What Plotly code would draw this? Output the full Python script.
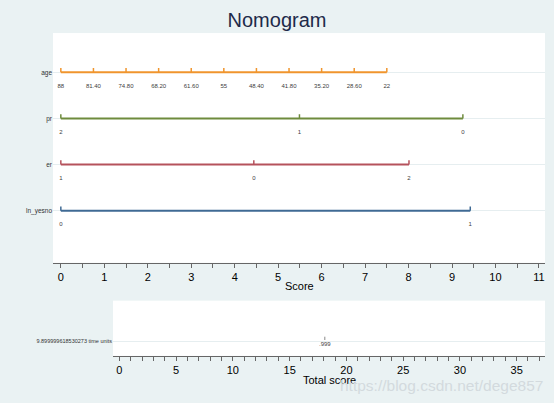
import plotly.graph_objects as go

# ---------------- data ----------------
variables = ["age", "pr", "er", "ln_yesno"]
levels = [4, 3, 2, 1]

age_labels = ["88", "81.40", "74.80", "68.20", "61.60", "55", "48.40", "41.80", "35.20", "28.60", "22"]
age_scores = [0, 0.75, 1.5, 2.25, 3.0, 3.75, 4.5, 5.25, 6.0, 6.75, 7.5]

pr_labels = ["2", "1", "0"]
pr_scores = [0, 5.49, 9.25]

er_labels = ["1", "0", "2"]
er_scores = [0, 4.44, 8.01]

ln_labels = ["0", "1"]
ln_scores = [0, 9.42]

score_ticks = [0, 1, 2, 3, 4, 5, 6, 7, 8, 9, 10, 11]
total_ticks = [0, 5, 10, 15, 20, 25, 30, 35]

time_label = "9.899999618530273 time units"
prob_labels = [".999"]
prob_totals = [18.1]

colors = ["#F0952D", "#6E8B3D", "#B5525C", "#3F6A94"]
FONT = "Liberation Sans, Arial, sans-serif"

series = [
    (age_scores, age_labels),
    (pr_scores, pr_labels),
    (er_scores, er_labels),
    (ln_scores, ln_labels),
]

fig = go.Figure()

TICK_H = 0.09
LABEL_OFF = 0.30
for (scores, labels), lvl, col in zip(series, levels, colors):
    # main segment
    fig.add_trace(go.Scatter(x=[min(scores), max(scores)], y=[lvl, lvl], mode="lines",
                             line=dict(color=col, width=2), hoverinfo="skip",
                             showlegend=False, xaxis="x", yaxis="y"))
    # tick marks
    tx, ty = [], []
    for s in scores:
        tx += [s, s, None]
        ty += [lvl, lvl + TICK_H, None]
    fig.add_trace(go.Scatter(x=tx, y=ty, mode="lines", line=dict(color=col, width=1.5),
                             hoverinfo="skip", showlegend=False, xaxis="x", yaxis="y"))
    # value labels
    fig.add_trace(go.Scatter(x=scores, y=[lvl - LABEL_OFF] * len(scores), mode="text",
                             text=labels, textposition="middle center",
                             textfont=dict(size=6, color="#404040", family=FONT),
                             hoverinfo="skip", showlegend=False, xaxis="x", yaxis="y"))

# bottom panel: probability marks
px, py = [], []
for t in prob_totals:
    px += [t, t, None]
    py += [0.03, 0.12, None]
fig.add_trace(go.Scatter(x=px, y=py, mode="lines", line=dict(color="#888888", width=1),
                         hoverinfo="skip", showlegend=False, xaxis="x2", yaxis="y2"))
fig.add_trace(go.Scatter(x=prob_totals, y=[-0.1] * len(prob_totals), mode="text",
                         text=prob_labels, textposition="middle center",
                         textfont=dict(size=6, color="#404040", family=FONT),
                         hoverinfo="skip", showlegend=False, xaxis="x2", yaxis="y2"))

axis_common = dict(showline=True, linecolor="#666666", linewidth=1, ticks="outside",
                   ticklen=4, tickcolor="#666666", tickwidth=1, showgrid=False, zeroline=False,
                   tickfont=dict(size=11, color="#000000", family=FONT))

top_dom = [0.0957, 0.9838]
bot_dom = [0.204, 0.9838]

fig.update_layout(
    width=554, height=403,
    margin=dict(l=0, r=0, t=0, b=0),
    paper_bgcolor="#EAF2F3",
    plot_bgcolor="#FFFFFF",
    font=dict(family=FONT),
    title=dict(text="Nomogram", x=0.5, xanchor="center", y=0.95, yanchor="middle",
               font=dict(size=20, color="#1E2A4A", family=FONT)),
    xaxis=dict(domain=top_dom, range=[-0.18, 11.14], tickvals=score_ticks,
               anchor="y",
               minor=dict(dtick=0.5, ticks="outside", ticklen=4, tickcolor="#666666"),
               **axis_common),
    yaxis=dict(domain=[0.348, 0.918], range=[-0.13, 4.85], tickvals=levels, ticktext=variables,
               tickfont=dict(size=6.5, color="#333333", family=FONT), showgrid=True,
               gridcolor="#E6EEF0", gridwidth=1, zeroline=False, showline=False, ticks="",
               anchor="x"),
    xaxis2=dict(domain=bot_dom, range=[-0.56, 37.5], tickvals=total_ticks,
                anchor="y2",
                minor=dict(dtick=1, ticks="outside", ticklen=4, tickcolor="#666666"),
                **axis_common),
    yaxis2=dict(domain=[0.117, 0.254], range=[-0.4, 1.1], tickvals=[0], ticktext=[time_label],
                tickfont=dict(size=5.5, color="#333333", family=FONT), showgrid=True,
                gridcolor="#E6EEF0", gridwidth=1, zeroline=False, showline=False, ticks="",
                anchor="x2"),
    annotations=[
        dict(text="Score", xref="paper", yref="paper", x=sum(top_dom) / 2, y=0.291,
             xanchor="center", yanchor="middle", showarrow=False,
             font=dict(size=11, color="#000000", family=FONT)),
        dict(text="Total score", xref="paper", yref="paper", x=sum(bot_dom) / 2, y=0.058,
             xanchor="center", yanchor="middle", showarrow=False,
             font=dict(size=11, color="#000000", family=FONT)),
        dict(text="https://blog.csdn.net/dege857", xref="paper", yref="paper",
             x=0.983, y=0.043, xanchor="right", yanchor="middle", showarrow=False,
             font=dict(size=15.5, color="#D3DADE", family=FONT)),
    ],
)

fig.write_html("out.html", config={"displayModeBar": False},
               post_script="document.body.style.margin='0';document.body.style.overflow='hidden';")
